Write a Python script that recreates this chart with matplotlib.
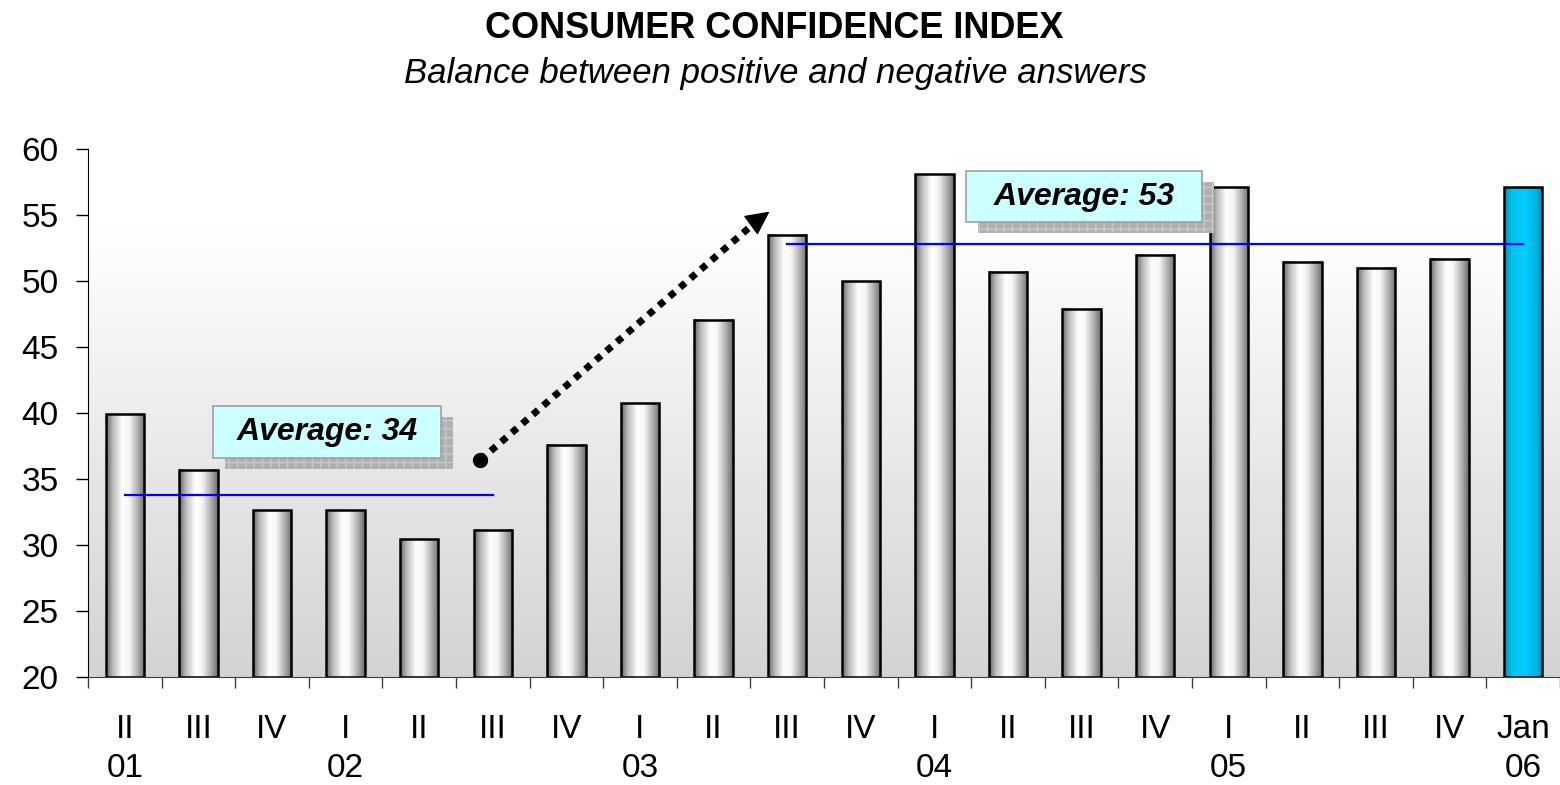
import numpy as np
import matplotlib
matplotlib.use('Agg')
import matplotlib.pyplot as plt
from matplotlib.colors import LinearSegmentedColormap
from matplotlib.patches import Rectangle

plt.rcParams['font.family'] = ['Liberation Sans', 'DejaVu Sans']

# quarterly balance (positive - negative answers)
quarters = ['II', 'III', 'IV', 'I', 'II', 'III', 'IV', 'I', 'II', 'III',
            'IV', 'I', 'II', 'III', 'IV', 'I', 'II', 'III', 'IV', 'Jan']
years = ['01', '', '', '02', '', '', '', '03', '', '',
         '', '04', '', '', '', '05', '', '', '', '06']
values = [39.9, 35.7, 32.65, 32.65, 30.45, 31.15, 37.6, 40.75, 47.05, 53.5,
          50.0, 58.1, 50.7, 47.9, 52.0, 57.1, 51.45, 51.0, 51.7, 57.1]

# periods used for the two averages
avg1_span = (0, 5)
avg2_span = (9, 19)

fig = plt.figure(figsize=(15.6, 7.85), dpi=100)
ax = fig.add_axes([0.0564, 0.1376, 0.9436, 0.6726])

ymin, ymax = 20, 60
n = len(values)
x = np.arange(n)
width = 0.52

# background gradient of the plot area
bg = LinearSegmentedColormap.from_list('bg', [(0, '#d3d3d3'), (0.85, '#ffffff'), (1, '#ffffff')])
ax.imshow(np.linspace(0, 1, 256).reshape(-1, 1), extent=[-0.5, n - 0.5, ymin, ymax],
          origin='lower', aspect='auto', cmap=bg, zorder=0)

# cylinder look for the bars
grey = LinearSegmentedColormap.from_list('cyl', [(0, '#666666'), (0.18, '#bdbdbd'), (0.42, '#ffffff'),
                                                 (0.6, '#f6f6f6'), (0.85, '#a4a4a4'), (1, '#6c6c6c')])
cyan = LinearSegmentedColormap.from_list('cyan', [(0, '#0090b0'), (0.2, '#00c4f0'), (0.55, '#00ccff'),
                                                  (0.85, '#00b0dc'), (1, '#0088a8')])
grad = np.linspace(0, 1, 128).reshape(1, -1)
for i, v in enumerate(values):
    cm = cyan if i == n - 1 else grey
    ax.imshow(grad, extent=[i - width / 2, i + width / 2, ymin, v], aspect='auto',
              cmap=cm, zorder=2)
ax.bar(x, np.array(values) - ymin, bottom=ymin, width=width, facecolor='none',
       edgecolor='black', linewidth=1.8, zorder=3)

# average lines
for a, b in (avg1_span, avg2_span):
    m = np.mean(values[a:b + 1])
    ax.plot([a, b], [m, m], color='#0000ff', lw=1.6, zorder=4)

# callout boxes
def callout(x0, y0, w, h, label):
    sh = Rectangle((x0 + 0.16, y0 - 0.85), w, h, facecolor='#b0b0b0', edgecolor='#c8c8c8',
                   hatch='++', linewidth=0, zorder=5)
    ax.add_patch(sh)
    box = Rectangle((x0, y0), w, h, facecolor='#ccffff', edgecolor='#a0a0a0', lw=1.2, zorder=6)
    ax.add_patch(box)
    ax.text(x0 + w / 2, y0 + h / 2, label, ha='center', va='center', fontsize=23,
            fontweight='bold', style='italic', zorder=7)

m1 = np.mean(values[avg1_span[0]:avg1_span[1] + 1])
m2 = np.mean(values[avg2_span[0]:avg2_span[1] + 1])
callout(1.2, 36.6, 3.1, 3.93, 'Average: %d' % round(m1))
callout(11.43, 54.47, 3.21, 3.86, 'Average: %d' % round(m2))

# dotted trend arrow
ax.plot([4.83, 8.6], [36.44, 54.6], color='black', lw=5, linestyle=(0, (1, 1)),
        solid_capstyle='butt', zorder=5)
ax.plot([4.83], [36.44], 'o', color='black', markersize=10, zorder=5)
ax.annotate('', xy=(8.79, 55.38), xytext=(8.55, 54.4),
            arrowprops=dict(arrowstyle='-|>', mutation_scale=38, color='black', lw=1),
            zorder=5)

ax.set_xlim(-0.5, n - 0.5)
ax.set_ylim(ymin, ymax)
ax.set_yticks(np.arange(20, 61, 5))
ax.set_xticks(x)
ax.set_xticklabels([q + ('\n' + y if y else '') for q, y in zip(quarters, years)])
ax.set_xticks(np.arange(-0.5, n, 1), minor=True)
ax.tick_params(axis='x', which='major', length=0, pad=27, labelsize=24)
ax.tick_params(axis='x', which='minor', length=8, direction='out', width=1, color='#404040')
ax.tick_params(axis='y', length=9, direction='out', width=1, pad=12, labelsize=24)
plt.setp(ax.get_xticklabels(), linespacing=1.3)

for s in ['top', 'right']:
    ax.spines[s].set_visible(False)
ax.spines['left'].set_color('black')
ax.spines['bottom'].set_color('#404040')

fig.text(0.496, 0.964, 'CONSUMER CONFIDENCE INDEX', ha='center', va='center',
         fontsize=26, fontweight='bold')
fig.text(0.497, 0.906, 'Balance between positive and negative answers', ha='center',
         va='center', fontsize=25, style='italic')

fig.savefig('out.png', dpi=100)
